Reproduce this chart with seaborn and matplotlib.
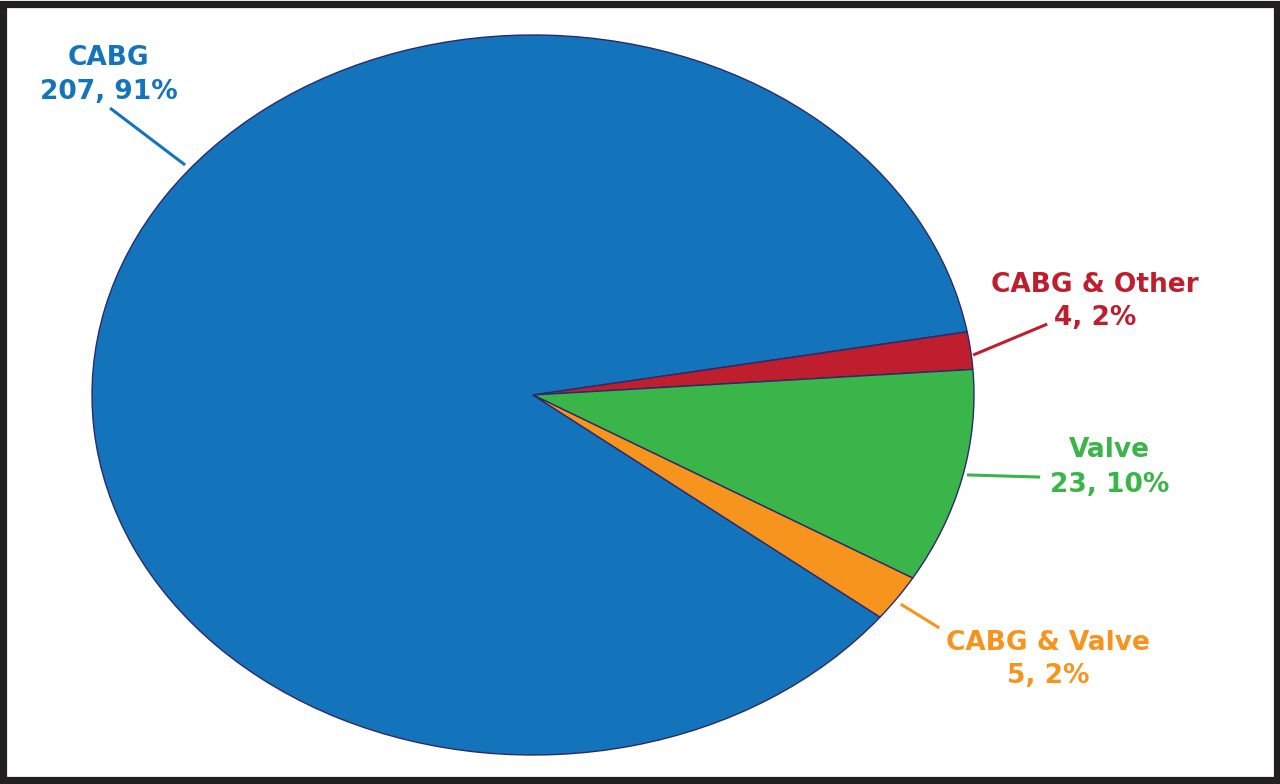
import matplotlib
matplotlib.use("Agg")
import matplotlib.pyplot as plt
import seaborn as sns
from matplotlib.patches import Rectangle

# datos
categorias = ["CABG", "CABG & Other", "Valve", "CABG & Valve"]
casos = [207, 4, 23, 5]
porcentajes = ["91%", "2%", "10%", "2%"]
colores = ["#1474BB", "#BE1E2D", "#39B54A", "#F7941D"]

sns.set_theme(style="white")
plt.rcParams['font.family'] = ['DejaVu Sans']

fig = plt.figure(figsize=(12.8, 7.84), dpi=100)
fig.patch.set_facecolor("white")

# eje del pie estirado en elipse
ax = fig.add_axes([92 / 1280, 29 / 784, 882 / 1280, 720 / 784])
total = sum(casos)
inicio = 10.1 + 360 * casos[0] / total
ax.pie(casos, colors=colores, startangle=inicio, counterclock=False,
       wedgeprops={"edgecolor": "#2B2A6B", "linewidth": 1.0})
ax.set_aspect("auto")
ax.set_xlim(-1, 1)
ax.set_ylim(-1, 1)
ax.axis("off")

# posiciones de etiquetas (x, y linea1, y linea2) y lineas guia
pos_texto = [(-0.962, 0.917, 0.822), (1.274, 0.286, 0.194),
             (1.308, -0.172, -0.269), (1.168, -0.708, -0.800)]
guias = [((-0.959, 0.797), (-0.789, 0.639)),
         ((1.166, 0.197), (0.998, 0.111)),
         ((0.984, -0.222), (1.150, -0.228)),
         ((0.834, -0.581), (0.921, -0.647))]

for cat, n, pct, col, (tx, y1, y2), (p0, p1) in zip(categorias, casos, porcentajes,
                                                   colores, pos_texto, guias):
    ax.text(tx, y1, cat, color=col, fontsize=19, fontweight="bold",
            ha="center", va="baseline", clip_on=False)
    ax.text(tx, y2, f"{n}, {pct}", color=col, fontsize=19, fontweight="bold",
            ha="center", va="baseline", clip_on=False)
    ax.plot([p0[0], p1[0]], [p0[1], p1[1]], color=col, lw=2.2,
            solid_capstyle="butt", clip_on=False)

# marco negro
fig.patches.append(Rectangle((0.0027, 0.0045), 0.9946, 0.991, transform=fig.transFigure,
                             fill=False, edgecolor="#231F20", linewidth=5.2))

fig.savefig("out.png", dpi=100)
plt.close()
